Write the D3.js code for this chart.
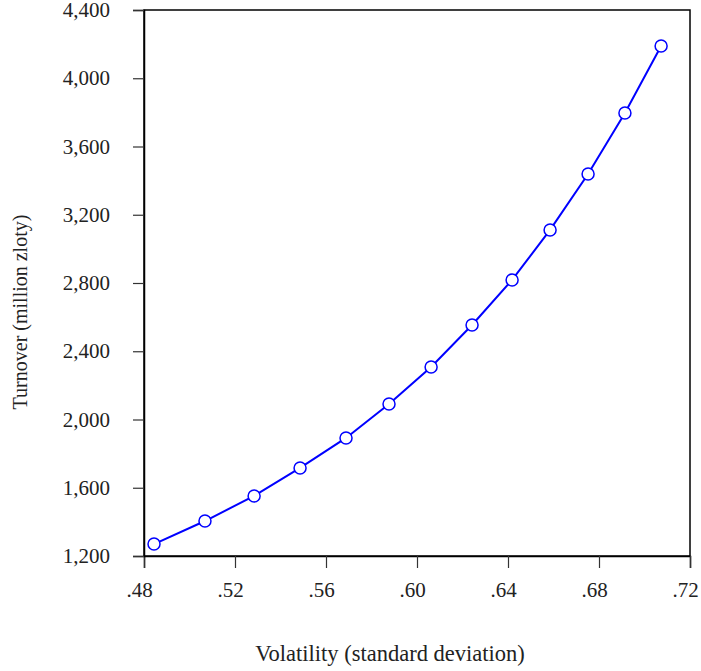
<!DOCTYPE html>
<html><head><meta charset="utf-8">
<script src="https://cdn.jsdelivr.net/npm/d3@7"></script>
<style>
body{margin:0;background:#fff;}
svg text{font-family:"Liberation Serif","Times New Roman",serif;fill:#222;}
</style></head>
<body><svg id="c" width="701" height="671"></svg>
<script>
const volatility = [0.4844, 0.5068, 0.5284, 0.5486, 0.5688, 0.5877, 0.6062, 0.6242, 0.6418, 0.6585, 0.6752, 0.6914, 0.7073];
const turnover = [1270, 1405, 1552, 1716, 1892, 2091, 2308, 2554, 2818, 3111, 3439, 3796, 4189];
const xTicks = [0.48, 0.52, 0.56, 0.60, 0.64, 0.68, 0.72];
const yTicks = [1200, 1600, 2000, 2400, 2800, 3200, 3600, 4000, 4400];

const svg = d3.select("#c");
const L = 144, R = 690, T = 10, B = 556;
const x = d3.scaleLinear().domain([0.48, 0.72]).range([L, R]);
const y = d3.scaleLinear().domain([1200, 4400]).range([B, T]);

// box
svg.append("rect").attr("x", L).attr("y", T).attr("width", R - L).attr("height", B - T)
  .attr("fill", "none").attr("stroke", "#000").attr("stroke-width", 1.5);

const xAxis = d3.axisBottom(x).tickValues(xTicks).tickSize(12).tickPadding(14)
  .tickFormat(d => d3.format(".2f")(d).replace(/^0/, ""));
const gx = svg.append("g").attr("transform", `translate(0,${B})`).call(xAxis);
gx.select(".domain").attr("stroke", "#000").attr("stroke-width", 1.5);
gx.selectAll(".tick line").attr("stroke", "#333").attr("stroke-width", 1.2);
gx.selectAll("text").attr("font-size", 21).attr("fill", "#222").attr("dx", -5);

const yAxis = d3.axisLeft(y).tickValues(yTicks).tickSize(11).tickPadding(23).tickFormat(d3.format(","));
const gy = svg.append("g").attr("transform", `translate(${L},0)`).call(yAxis);
gy.select(".domain").attr("stroke", "#000").attr("stroke-width", 1.5);
gy.selectAll(".tick line").attr("stroke", "#333").attr("stroke-width", 1.2);
gy.selectAll("text").attr("font-size", 21).attr("fill", "#222");

const data = volatility.map((v, i) => ({x: v, y: turnover[i]}));
svg.append("path").datum(data)
  .attr("fill", "none").attr("stroke", "#0000ff").attr("stroke-width", 2)
  .attr("d", d3.line().x(d => x(d.x)).y(d => y(d.y)));
svg.selectAll("circle.pt").data(data).join("circle").attr("class", "pt")
  .attr("cx", d => x(d.x)).attr("cy", d => y(d.y)).attr("r", 6)
  .attr("fill", "#fff").attr("stroke", "#0000ff").attr("stroke-width", 1.5);

svg.append("text").attr("x", 390).attr("y", 661).attr("text-anchor", "middle")
  .attr("font-size", 22.5).text("Volatility (standard deviation)");
svg.append("text").attr("transform", "translate(27,312) rotate(-90)").attr("text-anchor", "middle")
  .attr("font-size", 20).text("Turnover (million zloty)");
</script></body></html>
